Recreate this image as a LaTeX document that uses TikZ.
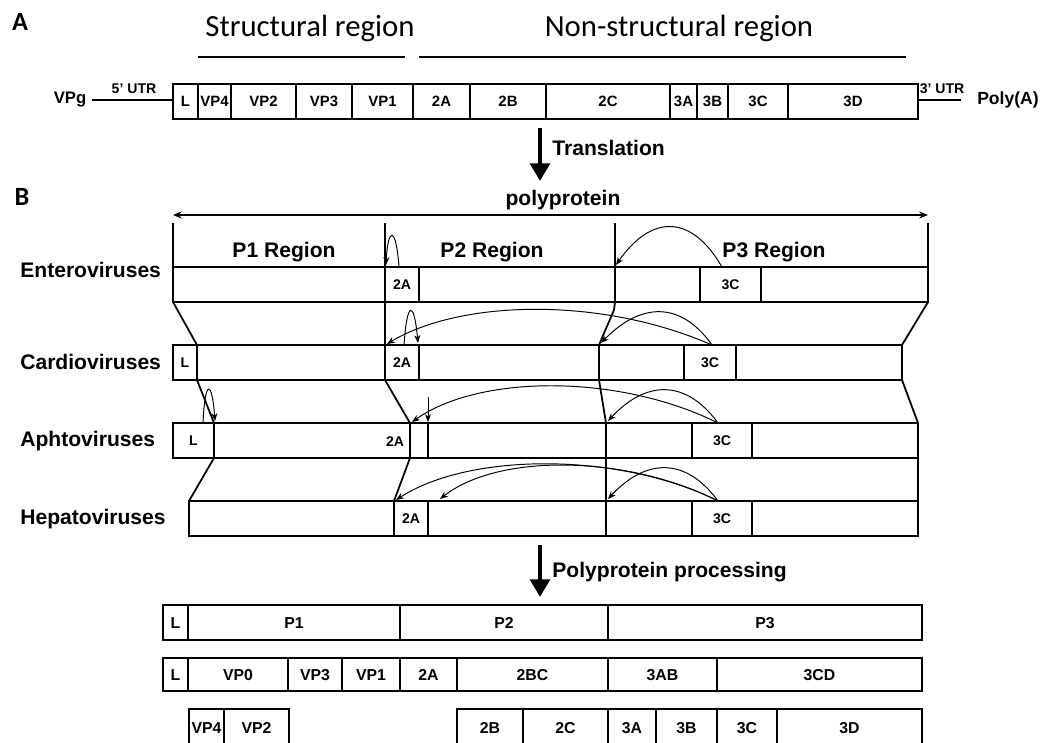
\documentclass[tikz,border=0pt]{standalone}
\usepackage{fontspec}
\setmainfont{Liberation Sans}
\newfontfamily\calibri{Carlito}
\usetikzlibrary{arrows.meta,calc,positioning}

\tikzset{
  barline/.style={line width=1pt},
  seglbl/.style={font=\bfseries\fontsize{8}{9}\selectfont, inner sep=0pt},
  rowlbl/.style={font=\bfseries\fontsize{12}{14}\selectfont, anchor=west, inner sep=0pt},
  reglbl/.style={font=\bfseries\fontsize{12}{14}\selectfont, inner sep=0pt},
  cut/.style={line width=0.55pt,-{Stealth[length=4.5pt,width=3.5pt]}},
  bigarrow/.style={line width=2.8pt,-{Triangle[length=10pt,width=11pt]}},
}
% one segmented bar: name, top, bottom, font size, list of x0/x1/label
\newcommand{\segrow}[5]{%
  \foreach \xa/\xb/\lbl [count=\i] in {#5}{
    \draw[barline] (\xa,#2) rectangle (\xb,#3);
    \node[seglbl,font=\bfseries\fontsize{#4}{#4}\selectfont,
      text height={0.72*#4 pt}, text depth=0pt]
      (#1-\i) at ({(\xa+\xb)/2},{(#2+#3)/2}) {\lbl};
  }}

\begin{document}
\begin{tikzpicture}[x=0.02cm,y=-0.02cm,>=Latex]
  \clip (0,0) rectangle (1062,743);

  % A: genome
  \node[font=\calibri\bfseries\fontsize{15}{18}\selectfont] (lblA) at (20,22) {A};
  \node[font=\calibri\fontsize{17.5}{21}\selectfont] (structtxt) at (310,28) {Structural region};
  \node[font=\calibri\fontsize{17.5}{21}\selectfont] (nonstructtxt) at (679,28) {Non-structural region};
  \draw[line width=1.2pt] (198,57) -- (405,57);
  \draw[line width=1.2pt] (419,57) -- (906,57);

  \segrow{g}{84}{119}{8.5}{173/198/L, 198/231/VP4, 231/296/VP2, 296/352/VP3, 352/413/VP1,
    413/470/2A, 470/546/2B, 546/670/2C, 670/697/3A, 697/728/3B, 728/788/3C, 788/918/3D}
  \coordinate (g5end) at (173,100);
  \coordinate (g3end) at (918,100);
  \node[seglbl,font=\bfseries\fontsize{9.5}{10}\selectfont] (vpg) at (70,100) {VPg};
  \node[seglbl] (utr5) at (134,89) {5' UTR};
  \node[seglbl] (utr3) at (942,89) {3' UTR};
  \node[seglbl,font=\bfseries\fontsize{10}{11}\selectfont] (polya) at (1008,100) {Poly(A)};
  \draw[barline] ([xshift=3pt]vpg.east) -- (g5end);
  \draw[barline] (g3end) -- ([xshift=-9pt]polya.west);

  \coordinate (tr0) at (540,128);
  \coordinate (tr1) at (540,181);
  \draw[bigarrow] (tr0) -- (tr1);
  \node[reglbl,anchor=west] (transl) at (552,148) {Translation};

  % B: polyprotein of the four genera
  \node[font=\calibri\bfseries\fontsize{15}{18}\selectfont] (lblB) at (22,197) {B};
  \node[reglbl] (polytxt) at (563,200) {polyprotein};
  \coordinate (pl) at (173,215);
  \coordinate (pr) at (928,215);
  \draw[line width=0.6pt,{Stealth[length=5pt,width=4pt]}-{Stealth[length=5pt,width=4pt]}] (pl) -- (pr);

  \node[reglbl] (p1reg) at (284,252) {P1 Region};
  \node[reglbl] (p2reg) at (492,252) {P2 Region};
  \node[reglbl] (p3reg) at (774,252) {P3 Region};

  \node[rowlbl] (entero) at (20,270) {Enteroviruses};
  \node[rowlbl] (cardio) at (20,362) {Cardioviruses};
  \node[rowlbl] (aphto) at (20,441) {Aphtoviruses};
  \node[rowlbl] (hepato) at (20,519) {Hepatoviruses};

  \segrow{ent}{267}{302}{8}{173/385/{}, 385/419/2A, 419/615/{}, 615/700/{}, 700/761/3C, 761/928/{}}
  \segrow{car}{345}{380}{8}{173/197/L, 197/385/{}, 385/419/2A, 419/599/{}, 599/684/{}, 684/736/3C, 736/902/{}}
  \segrow{aph}{423}{458}{8}{173/214/L, 214/410/{}, 410/428/{}, 428/606/{}, 606/692/{}, 692/752/3C, 752/918/{}}
  \segrow{hep}{501}{536}{8}{189/394/{}, 394/428/2A, 428/606/{}, 606/692/{}, 692/752/3C, 752/918/{}}
  \node[seglbl,text height=5.8pt,text depth=0pt] (aph2a) at (395,441) {2A};

  % region borders and joins between rows
  \draw[barline] (173,223) -- (173,267);
  \draw[barline] (385,223) -- (385,267);
  \draw[barline] (615,223) -- (615,267);
  \draw[barline] (928,223) -- (928,267);
  \draw[barline] (173,302) -- (197,345);
  \draw[barline] (385,302) -- (385,345);
  \draw[barline] (615,302) -- (614,310) -- (599,345);
  \draw[barline] (928,302) -- (902,345);
  \draw[barline] (197,380) -- (214,423);
  \draw[barline] (385,380) -- (410,423);
  \draw[barline] (599,380) -- (606,423);
  \draw[barline] (902,380) -- (918,423);
  \draw[barline] (214,458) -- (189,501);
  \draw[barline] (410,458) -- (394,501);
  \draw[barline] (606,458) -- (606,501);
  \draw[barline] (918,458) -- (918,501);

  % cleavage sites
  \draw[cut] (399,267) .. controls (396,226) and (388,226) .. (386,265);
  \draw[cut] (722,267) .. controls (690,212) and (650,216) .. (616,265);

  \draw[cut] (404,345) .. controls (407,300) and (414,300) .. (418,343);
  \draw[cut] (712,345) .. controls (600,296) and (460,300) .. (387,344);
  \draw[cut] (712,345) .. controls (680,300) and (640,303) .. (601,343);

  \draw[cut] (203,423) .. controls (205,378) and (212,380) .. (215,421);
  \draw[cut] (428,397) -- (428,422);
  \draw[cut] (718,423) .. controls (620,374) and (480,374) .. (412,422);
  \draw[cut] (718,423) .. controls (685,378) and (645,381) .. (608,421);

  \draw[cut] (718,501) .. controls (620,452) and (470,452) .. (396,500);
  \draw[cut] (718,501) .. controls (630,456) and (500,452) .. (440,499);
  \draw[cut] (718,501) .. controls (685,456) and (645,459) .. (608,499);

  % processing products
  \coordinate (pp0) at (540,545);
  \coordinate (pp1) at (540,597);
  \draw[bigarrow] (pp0) -- (pp1);
  \node[reglbl,anchor=west] (proctxt) at (552,572) {Polyprotein processing};

  \begin{scope}[barline/.style={line width=1.4pt}]
    \segrow{pa}{605}{640}{9}{163/188/L, 188/400/P1, 400/608/P2, 608/922/P3}
    \segrow{pb}{658}{691}{9}{163/188/L, 188/288/VP0, 288/342/VP3, 342/400/VP1, 400/457/2A,
      457/608/2BC, 608/717/3AB, 717/922/3CD}
    \segrow{pc}{709}{747}{9}{189/224/VP4, 224/289/VP2}
    \segrow{pd}{709}{747}{9}{457/523/2B, 523/608/2C, 608/656/3A, 656/717/3B, 717/777/3C, 777/922/3D}
  \end{scope}
\end{tikzpicture}
\end{document}
